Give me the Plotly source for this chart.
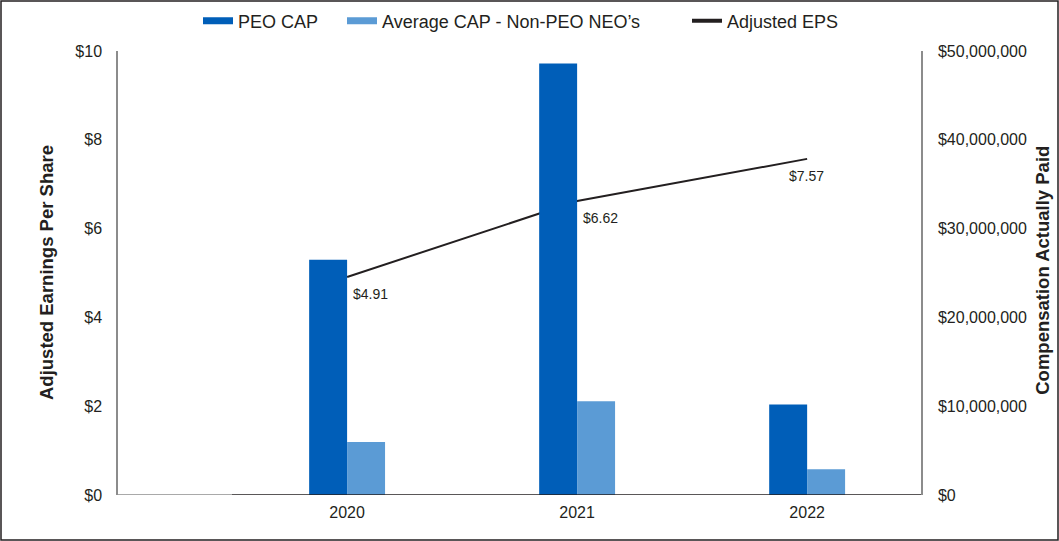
import plotly.graph_objects as go

years = [2020, 2021, 2022]
year_labels = ["2020", "2021", "2022"]
peo_cap = [26.5e6, 48.6e6, 10.2e6]
neo_cap = [5.97e6, 10.55e6, 2.9e6]
adj_eps = [4.91, 6.62, 7.57]
eps_labels = ["$4.91", "$6.62", "$7.57"]

left_ticks = [0, 2, 4, 6, 8, 10]
left_tick_text = ["$0", "$2", "$4", "$6", "$8", "$10"]
right_ticks = [0, 10e6, 20e6, 30e6, 40e6, 50e6]
right_tick_text = ["$0", "$10,000,000", "$20,000,000", "$30,000,000", "$40,000,000", "$50,000,000"]

PEO_COLOR = "#005eb8"
NEO_COLOR = "#5b9bd5"
LINE_COLOR = "#231f20"
TEXT_COLOR = "#231f20"
FONT = "Liberation Sans, Arial, sans-serif"

W, H = 1059, 541
ml, mr, mt, mb = 118, 138, 51, 46
pw = W - ml - mr
ph = H - mt - mb

fig = go.Figure()
fig.add_trace(go.Bar(x=years, y=peo_cap, name="PEO CAP", marker=dict(color=PEO_COLOR, line=dict(width=0)),
                     yaxis="y2", showlegend=False))
fig.add_trace(go.Bar(x=years, y=neo_cap, name="Average CAP - Non-PEO NEO\u2019s",
                     marker=dict(color=NEO_COLOR, line=dict(width=0)), yaxis="y2", showlegend=False))
fig.add_trace(go.Scatter(x=years, y=adj_eps, mode="lines",
                         line=dict(color=LINE_COLOR, width=2), name="Adjusted EPS", yaxis="y", showlegend=False))

# legend entries, each in its own legend so spacing matches the reference
legend_items = [("PEO CAP", PEO_COLOR, 7, "legend", 201),
                ("Average CAP - Non-PEO NEO\u2019s", NEO_COLOR, 7, "legend2", 345),
                ("Adjusted EPS", LINE_COLOR, 4, "legend3", 690)]
legend_layouts = {}
for nm, col, w, lg, px in legend_items:
    fig.add_trace(go.Scatter(x=[None], y=[None], mode="lines", name=nm, legend=lg,
                             line=dict(color=col, width=w), yaxis="y"))
    legend_layouts[lg] = dict(orientation="h", x=(px - 3) / W, xanchor="left", xref="container",
                              y=1 - 21 / H, yref="container", yanchor="middle",
                              font=dict(size=18, family=FONT, color=TEXT_COLOR), itemwidth=30,
                              bgcolor="rgba(0,0,0,0)", borderwidth=0)

annotations = []
for i, (yr, v, lab) in enumerate(zip(years, adj_eps, eps_labels)):
    last = i == len(years) - 1
    annotations.append(dict(x=yr, y=v, xref="x", yref="y", text=lab, showarrow=False,
                            xanchor="center" if last else "left", yanchor="middle",
                            xshift=-1 if last else 4, yshift=-17,
                            font=dict(size=14, color=TEXT_COLOR, family=FONT)))
annotations.append(dict(x=(46 - ml) / pw, y=0.5, xref="paper", yref="paper", textangle=-90,
                        text="<b>Adjusted Earnings Per Share</b>", showarrow=False,
                        xanchor="center", yanchor="middle", font=dict(size=18.5, color=TEXT_COLOR, family=FONT)))
annotations.append(dict(x=(1043 - ml) / pw, y=0.505, xref="paper", yref="paper", textangle=-90,
                        text="<b>Compensation Actually Paid</b>", showarrow=False,
                        xanchor="center", yanchor="middle", font=dict(size=18.5, color=TEXT_COLOR, family=FONT)))

fig.update_layout(
    width=W, height=H,
    margin=dict(l=ml, r=mr, t=mt, b=mb, autoexpand=False),
    paper_bgcolor="white", plot_bgcolor="white",
    font=dict(family=FONT, color=TEXT_COLOR, size=16),
    barmode="group", bargap=0.67, bargroupgap=0,
    showlegend=True,
    xaxis=dict(range=[2019.004, 2022.495], tickvals=years, ticktext=year_labels, showgrid=False,
               zeroline=False, showline=False, ticks="", tickfont=dict(size=16), ticklabelstandoff=6),
    yaxis=dict(range=[0, 10], tickvals=left_ticks, ticktext=left_tick_text, showgrid=False, zeroline=False,
               showline=True, linecolor="#8c8c8c", linewidth=1.5, ticks="",
               tickfont=dict(size=16), ticklabelstandoff=11),
    yaxis2=dict(range=[0, 50e6], tickvals=right_ticks, ticktext=right_tick_text, overlaying="y", side="right",
                showgrid=False, zeroline=False, showline=True, linecolor="#8c8c8c", linewidth=1.5, ticks="",
                tickfont=dict(size=16), ticklabelstandoff=12),
    annotations=annotations,
    shapes=[
        dict(type="line", xref="paper", yref="y", x0=0, x1=(232 - ml) / pw, y0=0, y1=0,
             line=dict(color="#8c8c8c", width=1.5)),
        dict(type="line", xref="paper", yref="y", x0=(232 - ml) / pw, x1=1, y0=0, y1=0,
             line=dict(color="#231f20", width=1.5)),
        dict(type="rect", xref="paper", yref="paper",
             x0=-(ml - 1) / pw, x1=(W - ml - 1) / pw, y0=-(mb - 1) / ph, y1=1 + (mt - 1) / ph,
             line=dict(color="#231f20", width=1.5), fillcolor="rgba(0,0,0,0)", layer="above"),
    ],
    **legend_layouts,
)

fig.write_html("out.html", config={"displayModeBar": False},
               post_script="document.body.style.margin='0';document.body.style.overflow='hidden';")
